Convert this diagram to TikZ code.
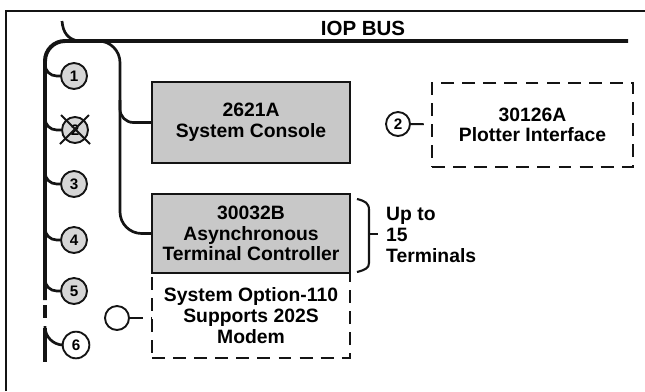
\documentclass[tikz,border=0pt]{standalone}
\usepackage{fontspec}
\setmainfont{Liberation Sans}
\usepackage{xcolor}
\usepackage{tikz}
\usetikzlibrary{calc}
\definecolor{iopline}{RGB}{20,20,20}
\definecolor{iopshade}{RGB}{200,200,200}
\definecolor{iopdot}{RGB}{214,214,214}
\tikzset{
  bus/.style  ={draw=iopline, line width=3.4pt},
  br/.style   ={draw=iopline, line width=2.3pt},
  frm/.style  ={draw=iopline, line width=1pt},
  dsh/.style  ={draw=iopline, line width=1.6pt, dash pattern=on 11pt off 7pt},
  txt/.style  ={font=\fontsize{16.5}{17.6}\selectfont\bfseries, align=center, inner sep=0pt},
  unit/.style ={txt, rectangle, draw=iopline, line width=1.7pt, fill=iopshade,
                minimum width=5.94cm},
  opt/.style  ={txt, rectangle, dsh},
  port/.style ={circle, draw=iopline, line width=1.6pt, fill=iopdot, minimum size=0.78cm,
                inner sep=0pt, font=\fontsize{13}{14}\selectfont\bfseries},
  pin/.style  ={port, fill=white, minimum size=0.72cm},
  note/.style ={txt, align=left, font=\fontsize{16.5}{18.3}\selectfont\bfseries},
}
\begin{document}
\begin{tikzpicture}[x=0.03cm,y=-0.03cm]
  \useasboundingbox (0,0) rectangle (645,391);
  \draw[frm] (6,391) -- (6,11) -- (645,11);
  \node[txt, font=\fontsize{17.5}{18}\selectfont\bfseries] (iop) at (363,28) {IOP BUS};
  % bus and branches
  \coordinate (busR) at (628,41);
  \draw[bus, rounded corners=0.6cm] (45,300) |- (busR);
  \draw[br] (62,21) .. controls (63,33) and (68,39) .. (78,41);
  \draw[bus] (45,305) -- (45,318);
  \draw[bus] (45,328) -- (45,362);
  % units
  \node[opt, minimum width=5.94cm, minimum height=2.55cm] (opt) at (251,315.5)
    {System Option-110\\Supports 202S\\Modem};
  \node[unit, minimum height=2.43cm] (con) at (251,122.5) {2621A\\System Console};
  \node[unit, minimum height=2.37cm] (ctl) at (251,233.5)
    {30032B\\Asynchronous\\Terminal Controller};
  \node[opt, minimum width=6.03cm, minimum height=2.52cm] (plt) at (532.5,125)
    {30126A\\Plotter Interface};
  \draw[br, rounded corners=0.65cm] (96,41) -| (120,233.5) -- (ctl.west);
  \draw[br, rounded corners=0.4cm] (120,100) |- (con.west);
  % ports
  \node[port] (n1) at (74,76) {1};
  \node[port] (n2) at (75,130) {2};
  \node[port] (n3) at (74,184) {3};
  \node[port] (n4) at (74,240) {4};
  \node[port] (n5) at (74,291) {5};
  \node[pin, minimum size=0.8cm] (n6) at (76,345) {6};
  \draw[br, line width=1.8pt] ($(n2)+(-14,-15)$) -- ($(n2)+(15,14)$);
  \draw[br, line width=1.8pt] ($(n2)+(14,-15)$) -- ($(n2)+(-15,14)$);
  \draw[br, rounded corners=0.35cm] (45,62) |- (n1.west);
  \draw[br, rounded corners=0.35cm] (45,116) |- (n2.west);
  \draw[br, rounded corners=0.35cm] (45,170) |- (n3.west);
  \draw[br, rounded corners=0.35cm] (45,226) |- (n4.west);
  \draw[br, rounded corners=0.35cm] (45,277) |- (n5.west);
  \draw[br, rounded corners=0.55cm] (45,326) |- (n6.west);
  \node[pin] (p2) at (398,124) {2};
  \draw[dsh] (p2) -- (plt);
  \node[pin] (mdm) at (117,318) {};
  \draw[dsh] (mdm) -- (mdm -| opt.west);
  % terminals brace
  \draw[br, line width=1.8pt] (357,199) .. controls (365,201) and (369,203) .. (369,210)
    -- (369,263) .. controls (369,268) and (365,270) .. (357,272);
  \draw[br, line width=1.8pt] (369,234) -- (378,234);
  \node[note, anchor=west] (upto) at (386,235) {Up to\\15\\Terminals};
\end{tikzpicture}
\end{document}
